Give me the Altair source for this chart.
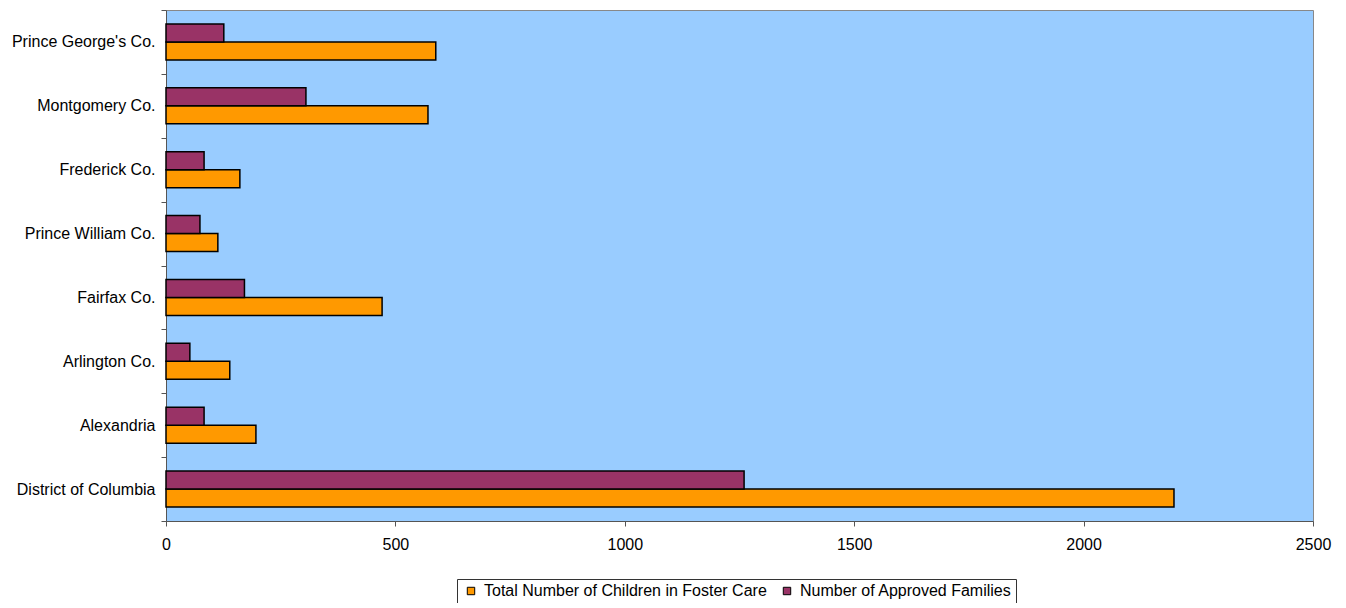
import altair as alt
import pandas as pd

categories = ["Prince George's Co.", "Montgomery Co.", "Frederick Co.", "Prince William Co.",
              "Fairfax Co.", "Arlington Co.", "Alexandria", "District of Columbia"]
children_in_care = [588, 571, 161, 113, 471, 139, 196, 2197]
approved_families = [126, 305, 83, 74, 171, 52, 83, 1260]

series_names = ["Total Number of Children in Foster Care", "Number of Approved Families"]

rows = []
for c, v1, v2 in zip(categories, children_in_care, approved_families):
    rows.append({"category": c, "series": series_names[0], "value": v1})
    rows.append({"category": c, "series": series_names[1], "value": v2})
df = pd.DataFrame(rows)

FONT = "Liberation Sans"

chart = alt.Chart(df).mark_bar(stroke="black", strokeWidth=1.5).encode(
    y=alt.Y("category:N", sort=categories,
            scale=alt.Scale(paddingInner=0, paddingOuter=0),
            axis=alt.Axis(title=None, tickBand="extent", tickSize=5, tickColor="#555",
                          domainColor="#555", labelFontSize=16, labelColor="black",
                          labelPadding=6, labelFont=FONT, grid=False, labelLimit=300)),
    yOffset=alt.YOffset("series:N", sort=[series_names[1], series_names[0]],
                        scale=alt.Scale(paddingInner=0, paddingOuter=0.78)),
    x=alt.X("value:Q", scale=alt.Scale(domain=[0, 2500], nice=False),
            axis=alt.Axis(title=None, values=[0, 500, 1000, 1500, 2000, 2500], format="d",
                          tickSize=5, tickColor="#555", domainColor="#555", labelFontSize=16,
                          labelColor="black", labelPadding=10, labelFont=FONT, grid=False,
                          labelFlush=False)),
    color=alt.Color("series:N", sort=series_names,
                    scale=alt.Scale(domain=series_names, range=["#FF9900", "#993366"]),
                    legend=alt.Legend(title=None, orient="none", legendX=291, legendY=569,
                                      direction="horizontal", strokeColor="#333",
                                      padding=4, symbolType="square", symbolSize=55,
                                      symbolStrokeColor="black", symbolStrokeWidth=1,
                                      labelFontSize=16, labelFont=FONT, labelColor="black",
                                      labelLimit=0, columnPadding=10, symbolOffset=2,
                                      labelOffset=5)),
).properties(
    width=1147, height=511,
    padding={"left": 158, "top": 2, "right": 20, "bottom": 82},
    autosize=alt.AutoSizeParams(type="none"),
).configure_view(
    fill="#99CCFF", stroke="#888", strokeWidth=1
)

chart.save("out.html", embed_options={"renderer": "svg", "actions": False})
